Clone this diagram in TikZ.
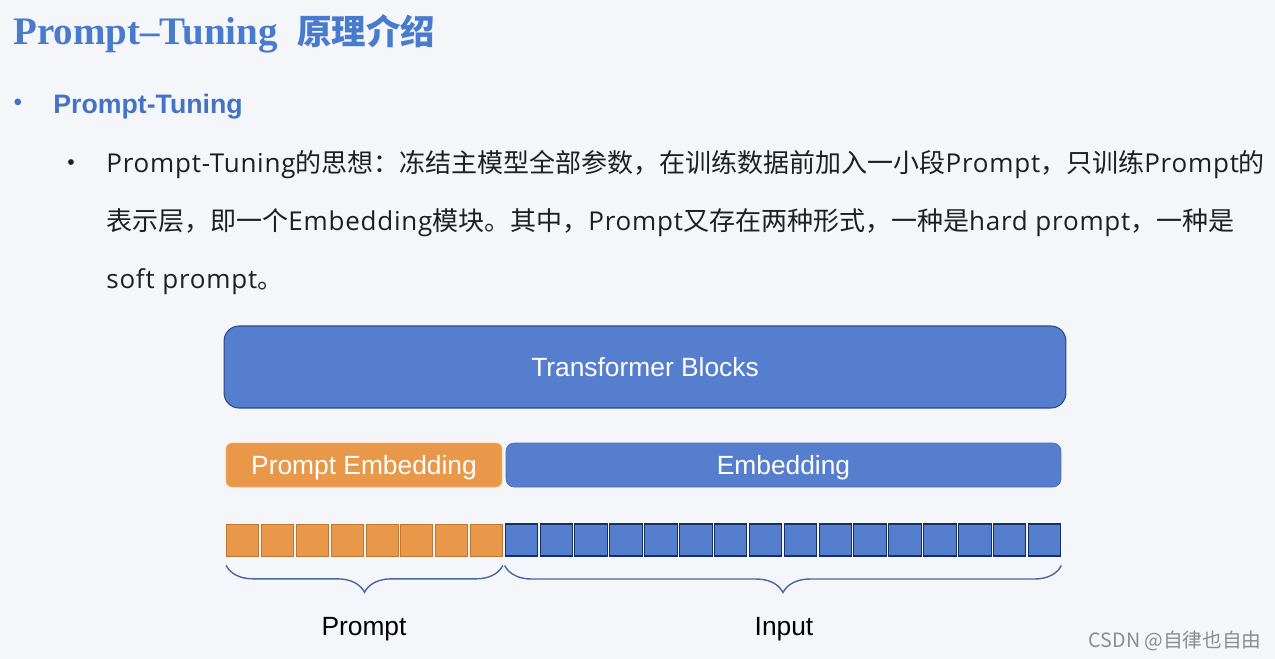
\documentclass[tikz,border=0pt]{standalone}
\usepackage{fontspec}
\setmainfont{Liberation Sans}
\newfontfamily\cjk{Noto Sans CJK SC}
\newfontfamily\bodyf[LetterSpace=3]{Open Sans}
\newfontfamily\titlef{Liberation Serif}
\usetikzlibrary{decorations.pathreplacing}
\definecolor{bgcol}{RGB}{245,246,250}
\definecolor{titleblue}{RGB}{72,122,205}
\definecolor{headblue}{RGB}{68,114,196}
\definecolor{boxblue}{RGB}{86,126,206}
\definecolor{boxline}{RGB}{42,72,140}
\definecolor{boxorange}{RGB}{233,151,72}
\definecolor{orangeline}{RGB}{244,182,112}
\definecolor{cellline}{RGB}{190,118,48}
\definecolor{navy}{RGB}{22,48,98}
\definecolor{bracecol}{RGB}{72,104,164}
\newcommand{\zh}[1]{{\cjk #1}}

\begin{document}
\begin{tikzpicture}[x=0.02cm, y=-0.02cm,
  bodytext/.style={anchor=base west, inner sep=0pt, font=\bodyf\fontsize{14.8}{16}\selectfont, text=black!88},
  bigbox/.style={draw=boxline, line width=0.6pt, fill=boxblue, rounded corners=0.3cm, text=white,
    minimum width=16.84cm, minimum height=1.64cm, font=\fontsize{15}{18}\selectfont},
  embbox/.style={rounded corners=0.12cm, text=white, minimum height=0.88cm, text depth=0pt, font=\fontsize{15}{18}\selectfont},
  pcell/.style={draw=cellline, line width=0.4pt, fill=boxorange, minimum width=0.64cm, minimum height=0.64cm, inner sep=0pt},
  icell/.style={draw=navy, line width=0.6pt, fill=boxblue, minimum width=0.65cm, minimum height=0.64cm, inner sep=0pt},
  brace/.style={draw=bracecol, line width=0.8pt, decorate, decoration={brace, mirror, amplitude=0.54cm}},
  label/.style={font=\fontsize{15}{18}\selectfont, text=black}]
\fill[bgcol] (0,0) rectangle (1275,659);
\useasboundingbox (0,0) rectangle (1275,659);

% title and text
\node[anchor=base west, inner sep=0pt, text=titleblue] (title) at (13,44)
  {\titlef\bfseries\fontsize{22.2}{24}\selectfont Prompt\textendash Tuning\hspace{0.5em}{\cjk\bfseries\fontsize{19.6}{24}\selectfont 原理介绍}};
\node[anchor=center, inner sep=0pt, text=headblue, font=\fontsize{14}{16}\selectfont] (bul1) at (18,105) {•};
\node[anchor=base west, inner sep=0pt, text=headblue, font=\bfseries\fontsize{15.2}{18}\selectfont] (head) at (53,113) {Prompt-Tuning};
\node[anchor=center, inner sep=0pt, text=black!88, font=\fontsize{12}{14}\selectfont] (bul2) at (71,165) {•};
\node[bodytext] (line1) at (106,172)
  {Prompt-Tuning\zh{的思想：冻结主模型全部参数，在训练数据前加入一小段}Prompt\zh{，只训练}Prompt\zh{的}};
\node[bodytext] (line2) at (106,230)
  {\zh{表示层，即一个}Embedding\zh{模块。其中，}Prompt\zh{又存在两种形式，一种是}hard prompt\zh{，一种是}};
\node[bodytext] (line3) at (106,288) {soft prompt\zh{。}};

% blocks
\node[bigbox] (tblocks) at (645,367) {Transformer Blocks};
\node[embbox, draw=orangeline, line width=0.5pt, fill=boxorange, minimum width=5.52cm] (pemb) at (364,465) {Prompt Embedding};
\node[embbox, draw=boxline!80, line width=0.4pt, fill=boxblue, rounded corners=0.16cm, minimum width=11.1cm] (emb) at (783.5,465) {Embedding};

% token cells
\foreach \i in {1,...,8}
  \node[pcell] (p\i) at ({225+34.875*(\i-0.5)},540) {};
\foreach \i in {1,...,16}
  \node[icell] (x\i) at ({225+34.875*(\i+7.5)},540) {};

% braces
\draw[brace] ([yshift=-0.18cm]p1.south west) -- ([yshift=-0.18cm]p8.south east);
\draw[brace] ([yshift=-0.18cm]x1.south west) -- ([yshift=-0.18cm]x16.south east);
\node[label] (lprompt) at (364,629) {Prompt};
\node[label] (linput) at (784,629) {Input};

\node[anchor=base east, inner sep=0pt, text=black!45, font=\cjk\fontsize{11.2}{13}\selectfont] (mark) at (1262,647) {CSDN @自律也自由};
\end{tikzpicture}
\end{document}
